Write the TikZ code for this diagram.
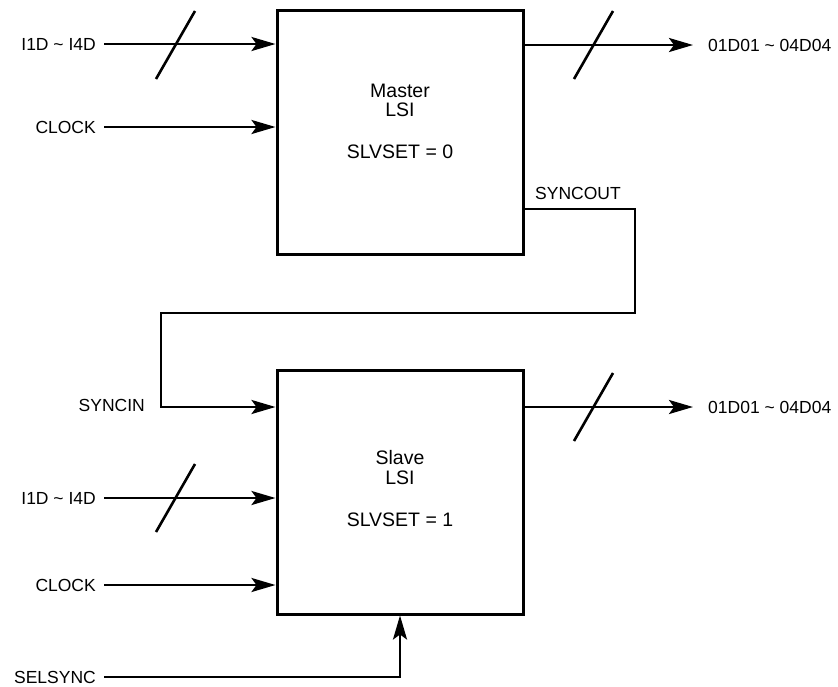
\documentclass[tikz,border=0pt]{standalone}
\usepackage{fontspec}
\setmainfont{Liberation Sans}
\usetikzlibrary{arrows.meta}
\begin{document}
\begin{tikzpicture}[x=1pt,y=-1pt,
  wire/.style={line width=2.6pt},
  sig/.style={wire,-{Stealth[length=24pt,width=14pt,inset=5pt]}},
  lsi/.style={draw,line width=3pt,minimum width=246pt,minimum height=244pt,inner sep=0pt},
  lbl/.style={font=\fontsize{17.5}{20}\selectfont,inner sep=0pt},
  blocktext/.style={font=\fontsize{19.5}{22}\selectfont,inner sep=0pt},
  inlbl/.style={lbl,anchor=east,inner xsep=8pt},
  outlbl/.style={lbl,anchor=west,inner xsep=15pt},
  bus/.style={wire}]
\useasboundingbox (0,0) rectangle (838,686);

% LSI blocks
\node[lsi] (M) at (400,132) {};
\node[lsi] (S) at (400,492) {};

% block captions
\node[blocktext] (mname) at (400,91) {Master};
\node[blocktext] (mlsi)  at (400,110) {LSI};
\node[blocktext] (mset)  at (400,152) {SLVSET = 0};
\node[blocktext] (sname) at (400,458) {Slave};
\node[blocktext] (slsi)  at (400,478) {LSI};
\node[blocktext] (sset)  at (400,520) {SLVSET = 1};

% master inputs
\node[inlbl] (mi) at (104,44) {I1D \textasciitilde{} I4D};
\node[inlbl] (mc) at (104,127) {CLOCK};
\draw[sig] (mi.east) -- (mi.east -| M.west);
\draw[sig] (mc.east) -- (mc.east -| M.west);
\draw[bus] (156,79) -- (195,11);

% master output
\coordinate (mo) at (523,45);
\node[outlbl] (mol) at (693,45) {01D01 \textasciitilde{} 04D04};
\draw[sig] (mo) -- (mol.west);
\draw[bus] (574,79) -- (613,11);

% sync chain
\coordinate (so) at (523,209);
\node[lbl,anchor=south west] (sol) at (535,200) {SYNCOUT};
\node[inlbl,inner xsep=0pt] (sil) at (145,405) {SYNCIN};
\coordinate (si) at (161,407);
\draw[sig] (so) -- (635,209) -- (635,313) -- (161,313) -- (si) -- (si -| S.west);

% slave inputs
\node[inlbl] (si1) at (104,498) {I1D \textasciitilde{} I4D};
\node[inlbl] (sc)  at (104,585) {CLOCK};
\draw[sig] (si1.east) -- (si1.east -| S.west);
\draw[sig] (sc.east) -- (sc.east -| S.west);
\draw[bus] (156,532) -- (195,464);

% slave output
\coordinate (sout) at (523,407);
\node[outlbl] (soutl) at (693,407) {01D01 \textasciitilde{} 04D04};
\draw[sig] (sout) -- (soutl.west);
\draw[bus] (574,441) -- (613,373);

% SELSYNC
\node[inlbl] (sel) at (104,677) {SELSYNC};
\draw[sig] (sel.east) -- (400,677) -- (S.south);
\end{tikzpicture}
\end{document}
